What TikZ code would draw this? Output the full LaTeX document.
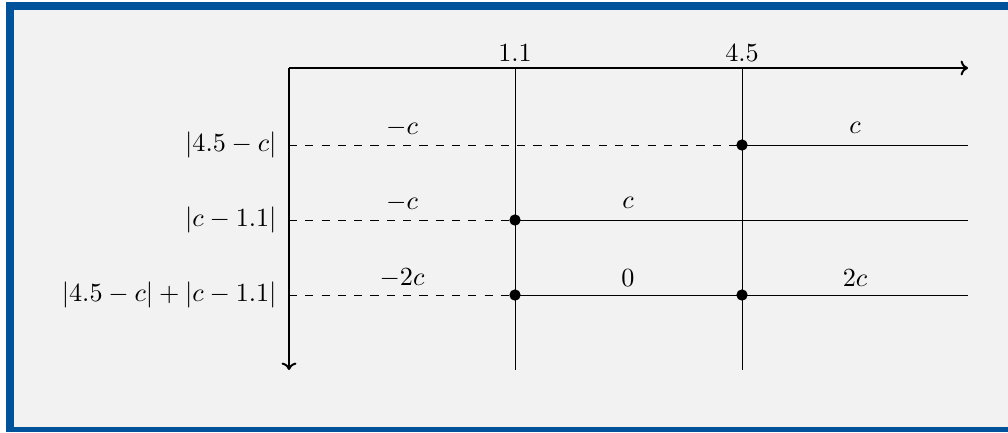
\documentclass[tikz,border=0pt]{standalone}
\usetikzlibrary{arrows.meta}
\definecolor{frameblue}{RGB}{0,82,155}
\definecolor{backgray}{RGB}{242,242,242}
\begin{document}
\begin{tikzpicture}[x=0.405pt,y=-0.405pt,
  axisline/.style={line width=0.8pt,-{To[length=3pt,width=6pt]}},
  gridline/.style={line width=0.4pt},
  dashline/.style={line width=0.4pt,dash pattern=on 3.3pt off 3.3pt},
  dotnode/.style={circle,fill=black,inner sep=0pt,minimum size=4.6pt},
  txt/.style={inner sep=0pt,scale=1.06,transform shape},
  lab/.style={txt,anchor=east},
  seg/.style={txt}]
\useasboundingbox (0,0) rectangle (1008,432);
\fill[frameblue] (6,2) rectangle (1008,432);
\fill[backgray] (14,9.5) rectangle (1008,426.7);
% axes
\coordinate (O) at (289,68);
\coordinate (xend) at (968,68);
\coordinate (yend) at (289,370);
\draw[axisline] (O) -- (xend);
\draw[axisline] (O) -- (yend);
% vertical lines
\coordinate (a1) at (515,68);
\coordinate (a2) at (515,370);
\coordinate (b1) at (742,68);
\coordinate (b2) at (742,370);
\draw[gridline] (a1) -- (a2);
\draw[gridline] (b1) -- (b2);
\node[seg] (t11) at (515,53) {$1.1$};
\node[seg] (t45) at (742,53) {$4.5$};
% row coordinates
\coordinate (r1s) at (289,145);
\coordinate (r1e) at (968,145);
\coordinate (r2s) at (289,220);
\coordinate (r2e) at (968,220);
\coordinate (r3s) at (289,295);
\coordinate (r3e) at (968,295);
% dots
\node[dotnode] (d1) at (742,145) {};
\node[dotnode] (d2) at (515,220) {};
\node[dotnode] (d3) at (515,295) {};
\node[dotnode] (d4) at (742,295) {};
% rows
\draw[dashline] (r1s) -- (d1.center);
\draw[gridline] (d1.center) -- (r1e);
\draw[dashline] (r2s) -- (d2.center);
\draw[gridline] (d2.center) -- (r2e);
\draw[dashline] (r3s) -- (d3.center);
\draw[gridline] (d3.center) -- (r3e);
% left labels
\node[lab] (l1) at (277,145) {$|4.5-c|$};
\node[lab] (l2) at (277,220) {$|c-1.1|$};
\node[lab] (l3) at (277,295) {$|4.5-c|+|c-1.1|$};
% segment labels
\node[seg] (s11) at (402,128) {$-c$};
\node[seg] (s12) at (855,128) {$c$};
\node[seg] (s21) at (402,203) {$-c$};
\node[seg] (s22) at (628,203) {$c$};
\node[seg] (s31) at (402,278) {$-2c$};
\node[seg] (s32) at (628,278) {$0$};
\node[seg] (s33) at (855,278) {$2c$};
\end{tikzpicture}
\end{document}
